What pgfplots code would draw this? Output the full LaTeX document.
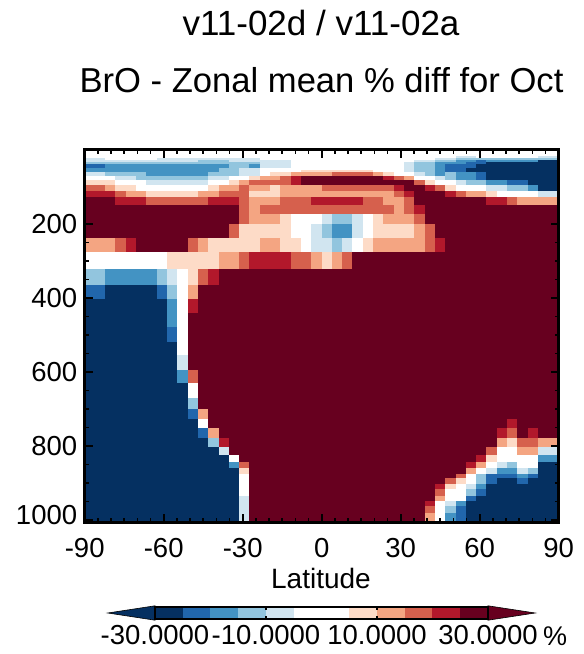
\documentclass[border=0pt]{standalone}
\usepackage{fontspec}
\setmainfont{Liberation Sans}
\usepackage{pgfplots}
\pgfplotsset{compat=1.18}
\definecolor{rc0}{HTML}{053061}
\definecolor{rc1}{HTML}{2166AC}
\definecolor{rc2}{HTML}{4393C3}
\definecolor{rc3}{HTML}{92C5DE}
\definecolor{rc4}{HTML}{D1E5F0}
\definecolor{rc5}{HTML}{FFFFFF}
\definecolor{rc6}{HTML}{FDDBC7}
\definecolor{rc7}{HTML}{F4A582}
\definecolor{rc8}{HTML}{D6604D}
\definecolor{rc9}{HTML}{B2182B}
\definecolor{rc10}{HTML}{67001F}
% one band of grid levels: pressure top, pressure bottom, runs of cells (last column / colour class)
\newcommand{\band}[3]{%
  \gdef\lastx{0}%
  \foreach \e/\c in {#3}{%
    \edef\tmp{\noexpand\addplot[fill=rc\c,draw=rc\c,line width=.3pt] coordinates {(\lastx,#1)(\e,#1)(\e,#2)(\lastx,#2)} --cycle;}%
    \tmp
    \xdef\lastx{\e}%
  }}
\newcommand{\seg}[3]{\addplot[fill=rc#3,draw=rc#3,line width=.2pt] coordinates {(#1,0)(#2,0)(#2,1)(#1,1)} --cycle;}
\begin{document}
\begin{tikzpicture}[x=1pt,y=1pt]
\path[use as bounding box] (0,0) rectangle (584,654);
\begin{axis}[
  at={(84.7pt,131.7pt)},anchor=south west,
  width=474pt,height=372.6pt,scale only axis,
  xmin=-90,xmax=90,ymin=-1,ymax=1006,y dir=reverse,
  x filter/.expression={-90+x*180/46},
  xtick={-90,-60,-30,0,30,60,90},
  xticklabels={-90,-60,-30,0,30,60,90},
  minor x tick num=5,
  ytick={200,400,600,800,1000},
  yticklabels={200,400,600,800,\raisebox{10pt}{1000}},
  minor y tick num=3,
  tick align=inside,
  major tick length=8pt,minor tick length=4pt,
  tick style={black,line width=1.6pt},
  axis line style={black,line width=2.8pt},
  axis on top,
  ticklabel style={font=\fontsize{27.5}{32}\selectfont},
  xticklabel style={yshift=-12pt},
  yticklabel style={xshift=-4pt},
]
\band{-1}{16}{46/5}
\band{16}{22}{36/5,38/4,44/5,46/4}
\band{22}{27}{2/4,7/5,17/4,34/5,36/4,38/3,46/3}
\band{27}{32}{11/4,14/3,20/4,32/5,34/4,36/3,38/2,39/1,44/2,46/0}
\band{32}{39}{17/3,20/4,31/5,32/4,34/3,37/2,39/1,46/0}
\band{39}{49}{2/1,14/2,16/3,17/2,20/4,31/5,32/4,34/3,35/2,38/1,46/0}
\band{49}{54}{13/2,15/3,17/4,31/5,32/4,34/3,35/2,37/1,46/0}
\band{54}{61}{13/2,15/3,17/4,21/5,28/6,31/5,32/4,34/3,35/2,37/1,46/0}
\band{61}{70}{2/4,6/3,12/2,15/3,17/4,18/5,20/6,24/7,28/8,29/7,30/6,32/5,33/4,34/3,35/2,36/3,38/2,39/1,46/0}
\band{70}{81}{3/5,5/4,12/3,14/4,16/5,17/6,19/7,20/8,21/9,29/10,30/9,31/8,32/7,34/5,35/4,36/3,38/2,39/1,46/0}
\band{81}{95}{3/6,6/5,12/4,14/5,15/6,16/7,20/8,21/9,32/10,33/8,34/6,36/5,37/4,39/3,41/2,43/1,46/0}
\band{95}{111}{2/8,3/7,5/6,12/5,13/6,15/7,16/8,18/7,19/6,23/7,30/8,31/9,33/10,34/9,35/8,36/6,39/5,41/4,43/3,44/2,46/0}
\band{111}{127}{3/9,4/8,6/7,11/6,13/7,16/8,19/6,30/7,31/8,32/9,35/10,36/9,37/8,39/7,40/6,44/5,46/4}
\band{127}{148}{3/10,6/9,12/8,15/9,16/8,19/7,22/8,27/9,29/8,31/7,32/8,39/10,41/9,42/8,46/7}
\band{148}{173}{15/10,16/8,17/7,30/8,31/7,32/8,33/9,46/10}
\band{173}{200}{15/10,16/8,19/7,20/6,23/5,24/4,26/3,27/4,28/5,29/6,32/7,33/8,46/10}
\band{200}{238}{14/10,15/8,20/6,22/5,23/4,24/3,26/2,27/4,28/5,32/6,33/7,34/8,46/10}
\band{238}{276}{3/7,4/8,5/9,10/10,11/8,12/7,17/6,19/7,21/6,22/5,24/4,25/3,26/4,27/5,28/6,33/7,34/8,35/9,46/10}
\band{276}{322}{8/5,13/6,15/7,16/8,20/9,22/8,23/7,24/6,25/7,26/8,46/10}
\band{322}{365}{2/3,7/2,8/3,9/4,10/5,11/6,12/8,13/9,46/10}
\band{365}{403}{2/1,7/0,8/1,9/3,10/5,11/7,46/10}
\band{403}{441}{8/0,9/2,10/5,11/9,46/10}
\band{441}{478}{8/0,9/2,10/5,46/10}
\band{478}{518}{8/0,9/1,10/5,46/10}
\band{518}{554}{9/0,10/5,46/10}
\band{554}{595}{9/0,10/4,46/10}
\band{595}{630}{9/0,10/2,11/8,46/10}
\band{630}{670}{10/0,11/5,46/10}
\band{670}{700}{10/0,11/3,46/10}
\band{700}{727}{10/0,11/1,12/7,46/10}
\band{727}{751}{11/0,12/5,41/10,42/9,46/10}
\band{751}{778}{11/0,12/1,13/7,40/10,41/9,42/8,43/10,44/9,46/10}
\band{778}{803}{12/0,13/3,14/9,40/10,41/7,42/6,44/8,46/7}
\band{803}{824}{13/0,14/4,39/10,40/8,42/5,44/7,46/4}
\band{824}{843}{14/0,15/5,38/10,39/9,40/6,44/5,46/2}
\band{843}{859}{14/0,15/2,16/8,37/10,38/9,39/7,40/5,41/4,42/3,44/5,46/0}
\band{859}{875}{15/0,16/6,37/10,38/7,39/5,40/4,42/2,43/4,44/3,46/0}
\band{875}{888}{15/0,16/5,36/10,37/8,38/5,39/3,42/1,43/2,44/1,46/0}
\band{888}{903}{15/0,16/5,35/10,36/8,37/6,38/5,39/3,40/1,42/0,43/1,46/0}
\band{903}{916}{15/0,16/5,34/10,35/9,36/6,37/5,38/4,39/2,46/0}
\band{916}{934}{15/0,16/5,34/10,35/8,37/5,38/3,39/1,46/0}
\band{934}{948}{15/0,16/4,34/10,35/7,37/5,38/1,46/0}
\band{948}{962}{15/0,16/4,33/10,34/9,35/5,36/4,37/2,46/0}
\band{962}{980}{15/0,16/4,33/10,34/8,35/5,36/3,37/1,46/0}
\band{980}{1006}{15/0,16/4,33/10,34/7,35/5,36/2,37/1,46/0}
\end{axis}
\begin{axis}[
  at={(155pt,35pt)},anchor=south west,
  width=333pt,height=12pt,scale only axis,clip=false,
  xmin=-30,xmax=30,ymin=0,ymax=1,
  ytick=\empty,
  xtick={-30,-10,10,30},
  xticklabels={-30.0000,-10.0000,10.0000,30.0000},
  tick align=inside,major tick length=3pt,
  tick style={black,line width=1.5pt},
  axis line style={black,line width=1.8pt},
  axis on top,
  xticklabel style={font=\fontsize{27.5}{32}\selectfont,yshift=-3pt},
]
\addplot[fill=rc0,draw=black,line width=.6pt] coordinates {(-30,-0.1)(-38.5,0.5)(-30,1.1)} --cycle;
\addplot[fill=rc10,draw=black,line width=.6pt] coordinates {(30,-0.1)(38.5,0.5)(30,1.1)} --cycle;
\seg{-30}{-25}{0}\seg{-25}{-20}{1}\seg{-20}{-15}{2}\seg{-15}{-10}{3}
\seg{-10}{-5}{4}\seg{-5}{0}{5}\seg{0}{5}{5}\seg{5}{10}{6}
\seg{10}{15}{7}\seg{15}{20}{8}\seg{20}{25}{9}\seg{25}{30}{10}
\end{axis}
\node[anchor=base,font=\fontsize{35}{40}\selectfont] at (321,654-36) {v11-02d / v11-02a};
\node[anchor=base,font=\fontsize{34.6}{40}\selectfont] at (321.5,654-93) {BrO - Zonal mean \% diff for Oct};
\node[anchor=base,font=\fontsize{28}{32}\selectfont] at (321,654-589) {Latitude};
\node[anchor=base,font=\fontsize{27}{32}\selectfont] at (555,654-645) {\%};
\end{tikzpicture}
\end{document}
